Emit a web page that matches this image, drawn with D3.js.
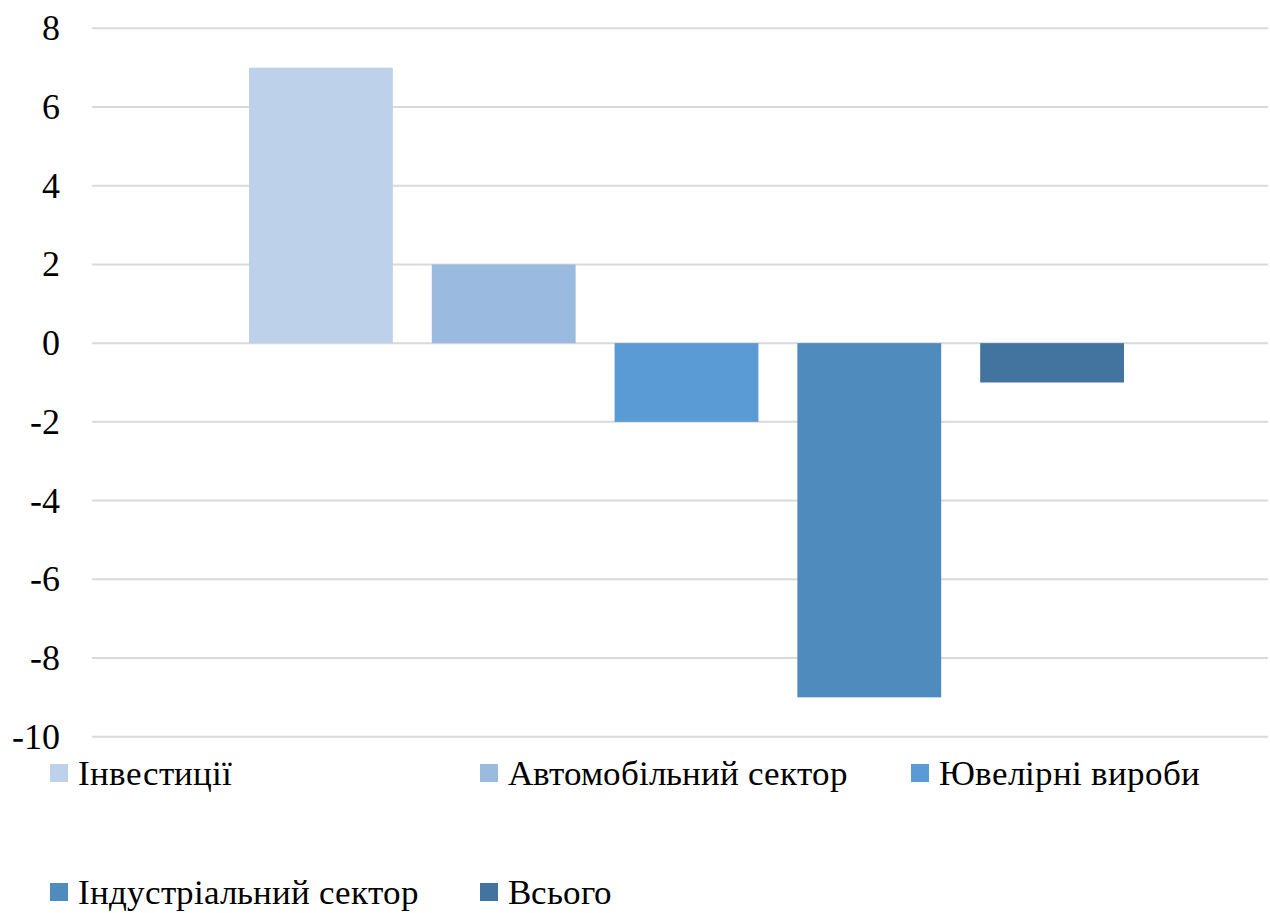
<!DOCTYPE html>
<html>
<head>
<meta charset="utf-8">
<script src="https://cdn.jsdelivr.net/npm/d3@7"></script>
<style>
  @font-face {
    font-family: "ChartSerif";
    src: local("Liberation Serif"), local("LiberationSerif"), local("LiberationSerif-Regular"), local("Tinos"), local("Times New Roman");
  }
</style>
</head>
<body style="margin:0;background:#fff">
<svg id="chart" width="1270" height="913" style="display:block"></svg>
<script>
// Change in demand by sector
const seriesNames = ["Інвестиції", "Автомобільний сектор", "Ювелірні вироби", "Індустріальний сектор", "Всього"];
const seriesValues = [7, 2, -2, -9, -1];
const seriesColors = ["#bdd1ea", "#9bbae0", "#5b9bd5", "#4f8bbd", "#43749f"];
const yTicks = [8, 6, 4, 2, 0, -2, -4, -6, -8, -10];

const FONT = "ChartSerif, 'Liberation Serif', Tinos, 'Times New Roman', serif";
const svg = d3.select("#chart");

const plot = { left: 92, right: 1268, top: 28.3, bottom: 736.7 };

const y = d3.scaleLinear().domain([-10, 8]).range([plot.bottom, plot.top]);

// one category holding all five series, with gaps between bars
const x = d3.scaleBand()
  .domain(seriesNames)
  .range([249, 1124])
  .paddingInner(39 / 183)
  .paddingOuter(0);

// horizontal gridlines
svg.selectAll("line.grid")
  .data(yTicks)
  .join("line")
  .attr("class", "grid")
  .attr("x1", plot.left)
  .attr("x2", plot.right)
  .attr("y1", d => y(d))
  .attr("y2", d => y(d))
  .attr("stroke", "#d9d9d9")
  .attr("stroke-width", 2);

// y tick labels, right-aligned against the plot
svg.selectAll("text.tick")
  .data(yTicks)
  .join("text")
  .attr("class", "tick")
  .attr("x", 60)
  .attr("y", d => y(d) + 12)
  .attr("text-anchor", "end")
  .style("font-family", FONT)
  .style("font-size", "36px")
  .style("fill", "#000")
  .text(d => d < 0 ? "-" + Math.abs(d) : String(d));

// bars
svg.selectAll("rect.bar")
  .data(seriesNames.map((n, i) => ({ name: n, value: seriesValues[i], color: seriesColors[i] })))
  .join("rect")
  .attr("class", "bar")
  .attr("x", d => x(d.name))
  .attr("width", x.bandwidth())
  .attr("y", d => y(Math.max(0, d.value)))
  .attr("height", d => Math.abs(y(d.value) - y(0)))
  .attr("fill", d => d.color);

// legend in two rows
const legendPos = [
  { x: 50, y: 764 }, { x: 480, y: 764 }, { x: 911, y: 764 },
  { x: 50, y: 883 }, { x: 480, y: 883 }
];
const legendData = seriesNames.map((n, i) => ({ name: n, color: seriesColors[i], pos: legendPos[i] }));
svg.selectAll("rect.key")
  .data(legendData)
  .join("rect")
  .attr("class", "key")
  .attr("x", d => d.pos.x)
  .attr("y", d => d.pos.y)
  .attr("width", 18).attr("height", 18)
  .attr("fill", d => d.color);
svg.selectAll("text.key")
  .data(legendData)
  .join("text")
  .attr("class", "key")
  .attr("x", d => d.pos.x + 28)
  .attr("y", d => d.pos.y + 21)
  .style("font-family", FONT)
  .style("font-size", "35px")
  .style("fill", "#000")
  .text(d => d.name);
</script>
</body>
</html>
